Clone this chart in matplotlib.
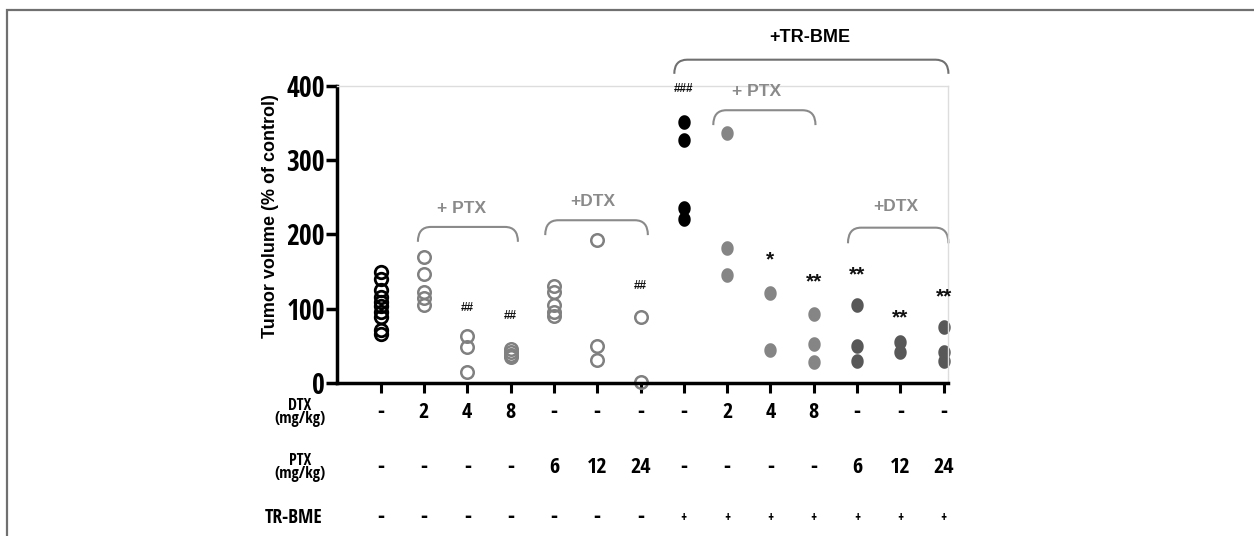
import matplotlib
matplotlib.use('Agg')
import matplotlib.pyplot as plt
from matplotlib.path import Path
from matplotlib.patches import PathPatch, Rectangle
from matplotlib import transforms
import numpy as np

plt.rcParams['font.family'] = ['Liberation Sans', 'DejaVu Sans']
NARROW = ['Open Sans Condensed', 'Liberation Sans', 'DejaVu Sans']

# tumor volume (% of control), one list per group
control = [149, 140, 125, 116, 109, 103, 96, 89, 72, 66]
dtx2 = [170, 147, 123, 114, 105]
dtx4 = [63, 48, 15]
dtx8 = [46, 42, 38, 35]
ptx6 = [130, 122, 105, 96, 90]
ptx12 = [192, 50, 31]
ptx24 = [89, 2]
tr = [351, 327, 235, 221]
tr_dtx2 = [336, 181, 145]
tr_dtx4 = [121, 45]
tr_dtx8 = [93, 53, 28]
tr_ptx6 = [105, 50, 29]
tr_ptx12 = [55, 42]
tr_ptx24 = [75, 42, 30]

groups = [control, dtx2, dtx4, dtx8, ptx6, ptx12, ptx24,
          tr, tr_dtx2, tr_dtx4, tr_dtx8, tr_ptx6, tr_ptx12, tr_ptx24]

# significance marks above groups
sig_labels = ['', '', '##', '##', '', '', '##', '###', '', '*', '**', '**', '**', '**']
sig_y = [0, 0, 101, 90, 0, 0, 130, 396, 0, 172, 142, 151, 93, 122]

# treatment table under the axis
dtx_row = ['-', '2', '4', '8', '-', '-', '-', '-', '2', '4', '8', '-', '-', '-']
ptx_row = ['-', '-', '-', '-', '6', '12', '24', '-', '-', '-', '-', '6', '12', '24']
tr_row = ['-', '-', '-', '-', '-', '-', '-', '+', '+', '+', '+', '+', '+', '+']

fig = plt.figure(figsize=(12.54, 5.36), dpi=100)
ax = fig.add_axes([0.269, 0.2854, 0.487, 0.5547])

# outer frame of the figure
fig.patches.append(Rectangle((7 / 1254, -0.1), 1.2, 1 - 10 / 536 + 0.1,
                             transform=fig.transFigure, fill=False,
                             edgecolor='#707070', lw=1.6))

# slightly tall ellipse for the filled dots
t = np.linspace(0, 2 * np.pi, 60)
ellipse = Path(np.column_stack([0.85 * np.cos(t), np.sin(t)]))

for i, vals in enumerate(groups):
    if i == 0:
        ax.plot([i] * len(vals), vals, 'o', ms=9, mfc='none', mec='black', mew=2.0, clip_on=False)
    elif i < 7:
        ax.plot([i] * len(vals), vals, 'o', ms=9, mfc='none', mec='#808080', mew=1.8, clip_on=False)
    elif i == 7:
        ax.plot([i] * len(vals), vals, ls='none', marker=ellipse, ms=10.5, mfc='black', mec='black', mew=0, clip_on=False)
    elif i < 11:
        ax.plot([i] * len(vals), vals, ls='none', marker=ellipse, ms=10.5, mfc='#858585', mec='#858585', mew=0, clip_on=False)
    else:
        ax.plot([i] * len(vals), vals, ls='none', marker=ellipse, ms=10.5, mfc='#585858', mec='#585858', mew=0, clip_on=False)

for i, lab in enumerate(sig_labels):
    if lab:
        if '*' in lab:
            ax.text(i, sig_y[i] - 6, lab, ha='center', va='center', fontsize=15,
                    fontweight='bold', color='#111111', clip_on=False)
        else:
            ax.text(i, sig_y[i], lab, ha='center', va='center', fontsize=8.5,
                    fontweight='bold', color='#111111', clip_on=False)


def bracket(x0, x1, y, h, color, lw=1.5):
    r = 0.3
    verts = [(x0, y - h), (x0, y), (x0 + r, y), (x1 - r, y), (x1, y), (x1, y - h)]
    codes = [Path.MOVETO, Path.CURVE3, Path.CURVE3, Path.LINETO, Path.CURVE3, Path.CURVE3]
    ax.add_patch(PathPatch(Path(verts, codes), fill=False, edgecolor=color, lw=lw, clip_on=False))


bracket(0.86, 3.17, 210, 20, '#8a8a8a')
ax.text(1.87, 235, '+ PTX', ha='center', va='center', fontsize=12.5, fontweight='bold', color='#8a8a8a')
bracket(3.8, 6.17, 219, 20, '#8a8a8a')
ax.text(4.9, 244, '+DTX', ha='center', va='center', fontsize=12.5, fontweight='bold', color='#8a8a8a')
bracket(6.78, 13.11, 435, 19, '#707070')
ax.text(9.92, 465, '+TR-BME', ha='center', va='center', fontsize=13, fontweight='bold',
        color='black', clip_on=False)
bracket(7.68, 10.04, 367, 20, '#8a8a8a')
ax.text(8.69, 392, '+ PTX', ha='center', va='center', fontsize=12.5, fontweight='bold', color='#8a8a8a')
bracket(10.79, 13.11, 209, 21, '#8a8a8a')
ax.text(11.89, 237, '+DTX', ha='center', va='center', fontsize=12.5, fontweight='bold', color='#8a8a8a')

ax.set_xlim(-1, 13.1)
ax.set_ylim(0, 400)
ax.set_xticks(range(len(groups)))
ax.set_xticklabels([])
ax.set_yticks([0, 100, 200, 300, 400])
ax.set_yticklabels(['0', '100', '200', '300', '400'], fontsize=20, fontweight='bold', family=NARROW)
ax.tick_params(axis='y', length=8, width=2.5, pad=1)
ax.tick_params(axis='x', length=7, width=2.2)
ax.spines['left'].set_linewidth(2.5)
ax.spines['bottom'].set_linewidth(2.5)
ax.spines['top'].set_color('#dddddd')
ax.spines['right'].set_color('#dddddd')
ax.spines['top'].set_linewidth(1)
ax.spines['right'].set_linewidth(1)
ax.set_ylabel('Tumor volume (% of control)', fontsize=13, fontweight='bold')
ax.yaxis.set_label_coords(-0.095, 0.56)

# table under the plot
trans = transforms.blended_transform_factory(ax.transData, fig.transFigure)
for i in range(len(groups)):
    ax.text(i, 0.2295, dtx_row[i], transform=trans, ha='center', va='center',
            fontsize=16, fontweight='bold', family=NARROW, clip_on=False)
    ax.text(i, 0.127, ptx_row[i], transform=trans, ha='center', va='center',
            fontsize=16, fontweight='bold', family=NARROW, clip_on=False)
    ax.text(i, 0.0336, tr_row[i], transform=trans, ha='center', va='center',
            fontsize=10 if tr_row[i] == '+' else 16, fontweight='bold', family=NARROW, clip_on=False)

fig.text(0.239, 0.2295, 'DTX\n(mg/kg)', ha='center', va='center', fontsize=11.5,
         fontweight='bold', linespacing=0.75, family=NARROW)
fig.text(0.239, 0.127, 'PTX\n(mg/kg)', ha='center', va='center', fontsize=11.5,
         fontweight='bold', linespacing=0.75, family=NARROW)
fig.text(0.234, 0.0336, 'TR-BME', ha='center', va='center', fontsize=14, fontweight='bold', family=NARROW)

fig.savefig('out.png', dpi=100)
